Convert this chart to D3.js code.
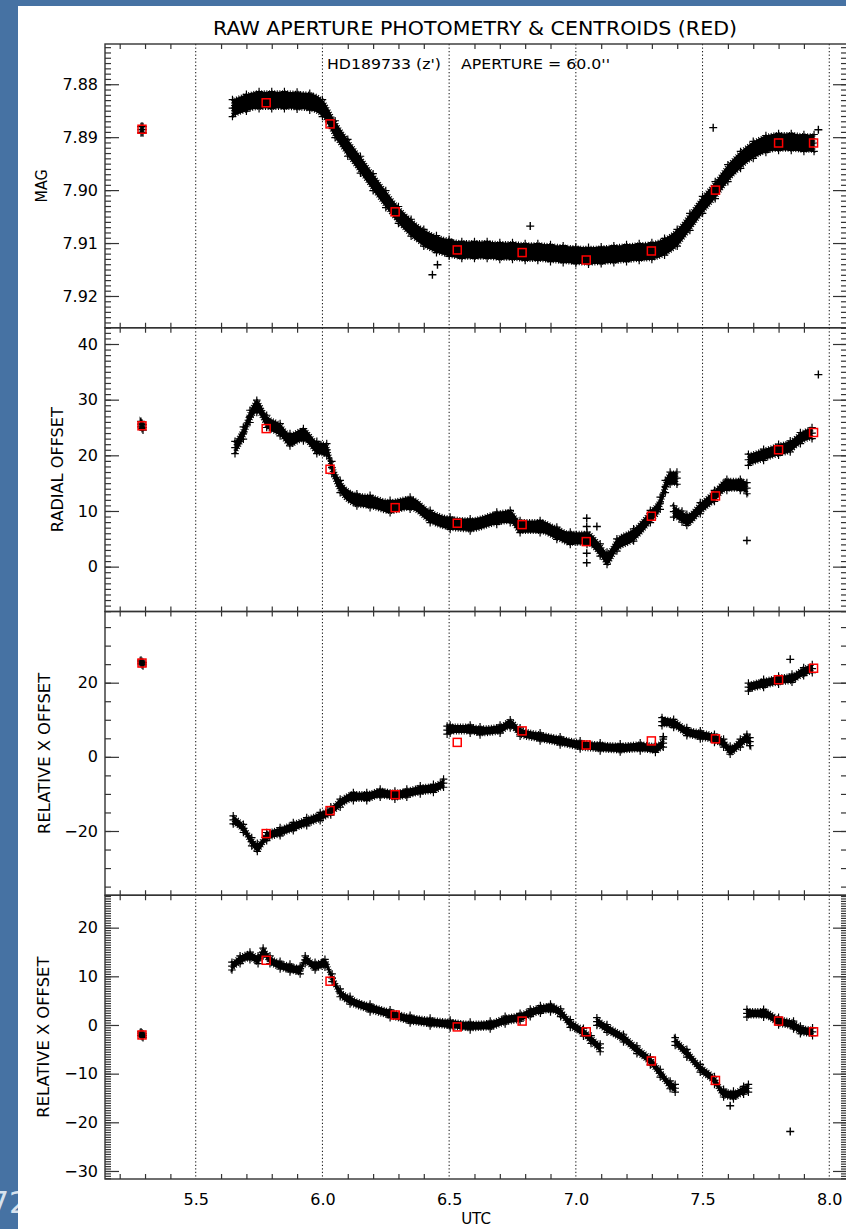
<!DOCTYPE html>
<html>
<head>
<meta charset="utf-8">
<script src="https://cdn.jsdelivr.net/npm/d3@7"></script>
<style>
  html, body { margin: 0; padding: 0; background: #4672a3; }
  svg { display: block; }
  text { font-family: "DejaVu Sans", sans-serif; fill: #000; }
</style>
</head>
<body>
<svg id="chart" width="846" height="1229"></svg>
<script>
/* global d3 */

// ── Binned centroids (red squares) ──────────────────────────────
const binUtc = [5.288, 5.778, 6.030, 6.287, 6.532, 6.788, 7.041, 7.298, 7.551, 7.800, 7.938];
const binMag = [7.8885, 7.8835, 7.8875, 7.9041, 7.9113, 7.9118, 7.9132, 7.9115, 7.9000, 7.8911, 7.8911];
const binRadial = [25.3, 24.8, 17.5, 10.6, 7.8, 7.55, 4.5, 9.06, 12.7, 21.0, 24.1];
const binRelX = [25.3, -20.7, -14.5, -10.2, 3.9, 7.0, 3.2, 4.3, 4.85, 20.8, 23.9];
const binRelY = [-2.05, 13.3, 9.0, 2.05, -0.4, 0.8, -1.4, -7.4, -11.4, 0.8, -1.4];

// ── Raw photometry bands: one sub-array per continuous run ──────
const magUtc = [
  [5.284, 5.288, 5.292],
  [5.645, 5.70, 5.75, 5.80, 5.85, 5.90, 5.95, 6.00, 6.05, 6.10, 6.15, 6.20, 6.25, 6.30, 6.35, 6.40,
   6.45, 6.50, 6.55, 6.60, 6.65, 6.70, 6.75, 6.80, 6.85, 6.90, 6.95, 7.00, 7.05, 7.10, 7.15, 7.20,
   7.25, 7.30, 7.35, 7.40, 7.45, 7.50, 7.55, 7.60, 7.65, 7.70, 7.75, 7.80, 7.85, 7.90, 7.94]
];
const magVal = [
  [7.8886, 7.8885, 7.8886],
  [7.8845, 7.8835, 7.8830, 7.8830, 7.8830, 7.8831, 7.8833, 7.8845, 7.8885, 7.8920, 7.8952, 7.8985,
   7.9017, 7.9047, 7.9071, 7.9090, 7.9102, 7.9109, 7.9113, 7.9113, 7.9113, 7.9115, 7.9115, 7.9117,
   7.9117, 7.9119, 7.9121, 7.9123, 7.9124, 7.9123, 7.9121, 7.9119, 7.9117, 7.9115, 7.9107, 7.9090,
   7.9060, 7.9028, 7.9000, 7.8968, 7.8943, 7.8924, 7.8913, 7.8909, 7.8909, 7.8911, 7.8911]
];
const magSpread = [0.0006, 0.0016];
const magOutUtc = [6.434, 6.454, 6.820, 7.542, 7.957];
const magOutVal = [7.9160, 7.9141, 7.9068, 7.8882, 7.8886];

const radUtc = [
  [5.284, 5.288, 5.292],
  [5.655, 5.688, 5.714, 5.741, 5.780, 5.833, 5.872, 5.925, 5.978, 6.017, 6.037, 6.070, 6.136, 6.188,
   6.267, 6.346, 6.425, 6.504, 6.583, 6.688, 6.741, 6.780, 6.859, 6.925, 6.978, 7.044, 7.096, 7.123,
   7.162, 7.228, 7.294, 7.333, 7.353, 7.372, 7.399],
  [7.386, 7.419, 7.438, 7.491, 7.547, 7.596, 7.649, 7.675],
  [7.681, 7.741, 7.800, 7.846, 7.886, 7.932]
];
const radVal = [
  [25.6, 25.3, 25.0],
  [21.4, 24.0, 27.0, 28.8, 26.1, 24.6, 22.8, 23.7, 21.4, 21.0, 17.8, 14.4, 12.0, 11.7, 10.8, 11.4,
   9.0, 7.8, 7.5, 8.7, 9.0, 7.2, 7.2, 6.0, 5.1, 5.1, 3.0, 1.5, 3.9, 5.7, 9.0, 11.4, 14.4, 15.9, 15.9],
  [9.9, 9.0, 8.4, 10.5, 12.7, 14.7, 14.7, 14.1],
  [19.2, 20.1, 21.0, 21.6, 23.1, 24.0]
];
const radSpread = [0.5, 1.1, 1.0, 1.0];
const radOutUtc = [7.043, 7.043, 7.043, 7.043, 7.083, 7.675, 7.957];
const radOutVal = [8.7, 7.2, 2.4, 0.7, 7.2, 4.7, 34.5];

const relxUtc = [
  [5.284, 5.288, 5.292],
  [5.648, 5.688, 5.721, 5.743, 5.780, 5.833, 5.885, 5.938, 5.991, 6.033, 6.070, 6.122, 6.175, 6.228,
   6.286, 6.333, 6.386, 6.438, 6.478],
  [6.492, 6.504, 6.583, 6.622, 6.701, 6.741, 6.780, 6.859, 6.938, 7.017, 7.096, 7.175, 7.254, 7.314, 7.345],
  [7.340, 7.386, 7.438, 7.491, 7.547, 7.583, 7.609, 7.649, 7.675, 7.687],
  [7.681, 7.741, 7.800, 7.853, 7.899, 7.933]
];
const relxVal = [
  [25.6, 25.3, 25.0],
  [-17.0, -19.3, -22.9, -24.4, -21.5, -20.2, -18.8, -17.5, -16.1, -14.6, -12.5, -10.7, -10.7, -9.8,
   -10.3, -9.8, -8.9, -8.5, -7.1],
  [7.2, 7.5, 7.5, 7.0, 7.5, 8.9, 6.7, 5.4, 4.3, 3.2, 2.7, 2.4, 2.7, 2.3, 3.7],
  [9.5, 9.0, 6.8, 5.9, 5.0, 3.7, 1.8, 3.7, 5.0, 4.1],
  [18.8, 19.8, 20.7, 21.2, 23.0, 23.8]
];
const relxSpread = [0.5, 1.1, 1.1, 1.1, 1.1];
const relxOutUtc = [7.345, 7.846];
const relxOutVal = [5.4, 26.3];

const relyUtc = [
  [5.284, 5.288, 5.292],
  [5.643, 5.675, 5.714, 5.746, 5.766, 5.793, 5.833, 5.872, 5.912, 5.932, 5.971, 6.010, 6.038, 6.070,
   6.109, 6.188, 6.267, 6.346, 6.425, 6.504, 6.583, 6.662, 6.721, 6.780, 6.820, 6.860, 6.900, 6.940,
   6.978, 7.030, 7.060, 7.096],
  [7.083, 7.123, 7.188, 7.241, 7.294, 7.333, 7.372, 7.392],
  [7.392, 7.438, 7.491, 7.547, 7.583, 7.622, 7.662, 7.681],
  [7.675, 7.741, 7.800, 7.859, 7.886, 7.934]
];
const relyVal = [
  [-1.8, -2.0, -2.2],
  [12.1, 13.4, 14.2, 13.4, 15.0, 13.4, 12.3, 11.7, 11.3, 13.4, 12.1, 12.7, 9.7, 6.6, 5.1, 3.5, 2.3,
   1.2, 0.6, 0.2, -0.2, 0.0, 1.0, 1.6, 2.5, 3.2, 3.5, 2.5, 0.3, -1.5, -3.0, -4.7],
  [0.7, -0.7, -2.7, -5.1, -7.4, -9.9, -12.3, -13.0],
  [-3.4, -5.8, -8.9, -11.4, -14.0, -14.4, -13.4, -13.0],
  [2.4, 2.4, 0.8, 0.0, -1.0, -1.4]
];
const relySpread = [0.4, 0.8, 0.8, 0.8, 0.8];
const relyOutUtc = [7.609, 7.846];
const relyOutVal = [-16.6, -21.9];

// ── Axes ────────────────────────────────────────────────────────
const xMajor = [5.5, 6.0, 6.5, 7.0, 7.5, 8.0];
const xMinor = d3.range(52, 81).map((i) => i / 10).filter((v) => Math.round(v * 10) % 5 !== 0);

const panels = [
  { label: 'MAG', labelX: 41.5, labelLen: 33, dom: [7.8724, 7.9260], inverted: true,
    majors: [7.88, 7.89, 7.90, 7.91, 7.92], minor: 0.001, fmt: d3.format('.2f'),
    utc: magUtc, val: magVal, spread: magSpread, outU: magOutUtc, outV: magOutVal, bins: binMag },
  { label: 'RADIAL OFFSET', labelX: 58, labelLen: 125, dom: [-8.06, 42.92],
    majors: [0, 10, 20, 30, 40], minor: 1, fmt: d3.format('d'),
    utc: radUtc, val: radVal, spread: radSpread, outU: radOutUtc, outV: radOutVal, bins: binRadial },
  { label: 'RELATIVE X OFFSET', labelX: 45, labelLen: 161, dom: [-37.33, 39.2],
    majors: [-20, 0, 20], minor: 5, fmt: d3.format('d'),
    utc: relxUtc, val: relxVal, spread: relxSpread, outU: relxOutUtc, outV: relxOutVal, bins: binRelX },
  { label: 'RELATIVE X OFFSET', labelX: 44, labelLen: 161, dom: [-31.65, 26.66],
    majors: [-30, -20, -10, 0, 10, 20], minor: 0.5, fmt: d3.format('d'),
    utc: relyUtc, val: relyVal, spread: relySpread, outU: relyOutUtc, outV: relyOutVal, bins: binRelY },
];

const LEFT = 105, RIGHT = 847, TOP = 44, PH = 283.75;
const AXIS_COLOR = '#333';
const PLUS = 'M-3.8,0H3.8M0,-3.8V3.8';
const PLUS_OUT = 'M-4,0H4M0,-4V4';

const svg = d3.select('#chart');

// slide background, page number peeking out, white plot sheet
svg.append('rect').attr('width', 846).attr('height', 1229).attr('fill', '#4672a3');
svg.append('text').attr('x', -10).attr('y', 1213).attr('font-size', 30)
  .style('fill', '#d8e2ee').text('72');
svg.append('rect').attr('x', 18).attr('y', 6).attr('width', 828).attr('height', 1223).attr('fill', '#fff');

// cut-off label remnant at far left
svg.append('clipPath').attr('id', 'cutLeft')
  .append('rect').attr('x', 18.5).attr('y', 600).attr('width', 10).attr('height', 300);
svg.append('text')
  .attr('clip-path', 'url(#cutLeft)')
  .attr('transform', 'translate(21.5,752) rotate(-90)')
  .attr('text-anchor', 'middle').attr('font-size', 15)
  .text('(IN PIXELS)');

const x = d3.scaleLinear().domain([5.142, 8.070]).range([LEFT, RIGHT]);

function minorValues(dom, step) {
  const lo = Math.min(dom[0], dom[1]), hi = Math.max(dom[0], dom[1]);
  return d3.range(Math.ceil(lo / step - 1e-9), Math.floor(hi / step + 1e-9) + 1)
    .map((i) => +(i * step).toFixed(6));
}

function styleAxis(g) {
  g.select('.domain').remove();
  g.selectAll('line').attr('stroke', AXIS_COLOR).attr('stroke-width', 1.2);
  g.selectAll('text').attr('font-size', 16).attr('font-family', '"DejaVu Sans", sans-serif')
    .style('fill', '#000');
}

panels.forEach((p, i) => {
  const top = TOP + i * PH;
  const bot = top + PH;
  const y = d3.scaleLinear().domain(p.dom).range(p.inverted ? [top, bot] : [bot, top]);
  const g = svg.append('g').attr('class', `panel-${i}`);

  g.append('clipPath').attr('id', `clip-${i}`)
    .append('rect').attr('x', LEFT).attr('y', top).attr('width', RIGHT - LEFT).attr('height', PH);

  // dotted major grid (IDL ticklen=1)
  g.append('g').selectAll('line')
    .data(xMajor)
    .join('line')
    .attr('x1', (d) => x(d)).attr('x2', (d) => x(d))
    .attr('y1', top).attr('y2', bot)
    .attr('stroke', '#111').attr('stroke-width', 1)
    .attr('stroke-dasharray', '1.3,2.2');

  // ── Data ─────────────────────────────────────────────────────
  const data = g.append('g').attr('clip-path', `url(#clip-${i})`);
  const area = d3.area()
    .x((d) => x(d.u))
    .y0((d) => y(d.v - d.s))
    .y1((d) => y(d.v + d.s))
    .curve(d3.curveMonotoneX);

  p.utc.forEach((us, k) => {
    const pts = us.map((u, j) => ({ u, v: p.val[k][j], s: p.spread[k] }));
    data.append('path')
      .datum(pts)
      .attr('d', area)
      .attr('fill', '#000')
      .attr('stroke', '#000')
      .attr('stroke-width', 2.8)
      .attr('stroke-dasharray', '1,1.6');

    const edges = pts.flatMap((d) => [
      { u: d.u, v: d.v - d.s }, { u: d.u, v: d.v }, { u: d.u, v: d.v + d.s },
    ]);
    data.append('g').selectAll('path')
      .data(edges)
      .join('path')
      .attr('transform', (d) => `translate(${x(d.u)},${y(d.v)})`)
      .attr('d', PLUS)
      .attr('stroke', '#000')
      .attr('stroke-width', 1.2);
  });

  data.append('g').selectAll('path')
    .data(p.outU.map((u, j) => ({ u, v: p.outV[j] })))
    .join('path')
    .attr('transform', (d) => `translate(${x(d.u)},${y(d.v)})`)
    .attr('d', PLUS_OUT)
    .attr('stroke', '#000')
    .attr('stroke-width', 1.4);

  data.append('g').selectAll('rect')
    .data(binUtc.map((u, j) => ({ u, v: p.bins[j] })))
    .join('rect')
    .attr('x', (d) => x(d.u) - 4)
    .attr('y', (d) => y(d.v) - 4)
    .attr('width', 8).attr('height', 8)
    .attr('fill', 'none')
    .attr('stroke', '#f00')
    .attr('stroke-width', 1.5);

  // ── Y axes (both sides, ticks inward) ────────────────────────
  const minors = minorValues(p.dom, p.minor);
  g.append('g').attr('transform', `translate(${LEFT},0)`)
    .call(d3.axisLeft(y).tickValues(minors).tickSize(-6).tickFormat(''))
    .call(styleAxis);
  g.append('g').attr('transform', `translate(${LEFT},0)`)
    .call(d3.axisLeft(y).tickValues(p.majors).tickSize(-14).tickPadding(7).tickFormat(p.fmt))
    .call(styleAxis);
  g.append('g').attr('transform', `translate(${RIGHT},0)`)
    .call(d3.axisRight(y).tickValues(minors).tickSize(-6).tickFormat(''))
    .call(styleAxis);
  g.append('g').attr('transform', `translate(${RIGHT},0)`)
    .call(d3.axisRight(y).tickValues(p.majors).tickSize(-14).tickFormat(''))
    .call(styleAxis);

  // ── X minor ticks top and bottom ─────────────────────────────
  g.append('g').attr('transform', `translate(0,${top})`)
    .call(d3.axisTop(x).tickValues(xMinor).tickSize(-5).tickFormat(''))
    .call(styleAxis);
  g.append('g').attr('transform', `translate(0,${bot})`)
    .call(d3.axisBottom(x).tickValues(xMinor).tickSize(-5).tickFormat(''))
    .call(styleAxis);

  // frame
  g.append('rect')
    .attr('x', LEFT).attr('y', top)
    .attr('width', RIGHT - LEFT).attr('height', PH)
    .attr('fill', 'none').attr('stroke', AXIS_COLOR).attr('stroke-width', 1.4);

  // y title
  g.append('text')
    .attr('transform', `translate(${p.labelX},${(top + bot) / 2}) rotate(-90)`)
    .attr('text-anchor', 'middle')
    .attr('dy', '0.36em')
    .attr('font-size', 15)
    .attr('textLength', p.labelLen)
    .attr('lengthAdjust', 'spacingAndGlyphs')
    .text(p.label);
});

// bottom x labels
const xBottom = TOP + 4 * PH;
svg.append('g').attr('transform', `translate(0,${xBottom})`)
  .call(d3.axisBottom(x).tickValues(xMajor).tickSize(0).tickPadding(15).tickFormat(d3.format('.1f')))
  .call(styleAxis);

svg.append('text')
  .attr('x', (LEFT + RIGHT) / 2).attr('y', 1224)
  .attr('text-anchor', 'middle').attr('font-size', 15)
  .text('UTC');

// title
svg.append('text')
  .attr('x', 475).attr('y', 35)
  .attr('text-anchor', 'middle').attr('font-size', 19)
  .attr('textLength', 524).attr('lengthAdjust', 'spacingAndGlyphs')
  .text('RAW APERTURE PHOTOMETRY & CENTROIDS (RED)');

// annotation
svg.append('text')
  .attr('x', 327).attr('y', 69)
  .attr('font-size', 13.5)
  .attr('textLength', 283).attr('lengthAdjust', 'spacingAndGlyphs')
  .style('white-space', 'pre')
  .text('HD189733 (z\')    APERTURE = 60.0\'\'');
</script>
</body>
</html>
